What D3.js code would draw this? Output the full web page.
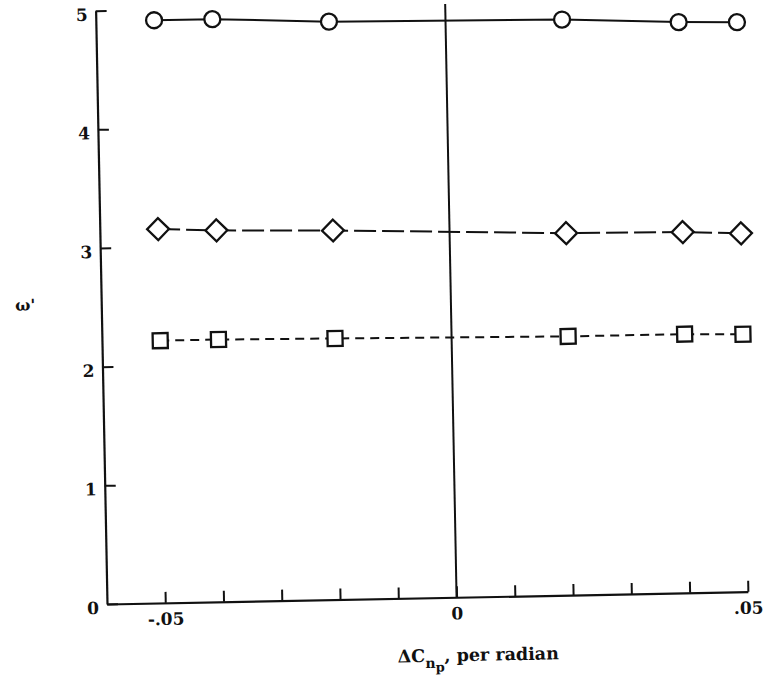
<!DOCTYPE html>
<html>
<head>
<meta charset="utf-8">
<script src="https://cdn.jsdelivr.net/npm/d3@7"></script>
<style>
  html, body { margin: 0; padding: 0; background: #fff; }
  svg { display: block; }
  text { font-family: "DejaVu Serif", serif; fill: #111; }
</style>
</head>
<body>
<svg id="chart" width="772" height="680"></svg>
<script>
// Measured points: yaw-damping increment vs. frequency parameter
const xVals = [-0.05, -0.04, -0.02, 0.02, 0.04, 0.05];
const circleVals = [4.91, 4.91, 4.87, 4.85, 4.81, 4.80];
const diamondVals = [3.15, 3.13, 3.11, 3.05, 3.04, 3.02];
const squareVals = [2.21, 2.21, 2.20, 2.18, 2.18, 2.17];

const xTickVals = [-0.05, -0.04, -0.03, -0.02, -0.01, 0, 0.01, 0.02, 0.03, 0.04, 0.05];
const xTickLabels = ["-.05", "", "", "", "", "0", "", "", "", "", ".05"];
const yTickVals = [0, 1, 2, 3, 4, 5];
const yTickLabels = ["0", "1", "2", "3", "4", "5"];

const W = 641, H = 593.4;
const ox = 107, oy = 604;
const ink = "#111";

const svg = d3.select("#chart");
svg.append("rect").attr("width", 772).attr("height", 680).attr("fill", "#fff");

// whole sheet sits slightly turned
const sheet = svg.append("g").attr("transform", `rotate(-1.1 ${ox} ${oy})`);
const g = sheet.append("g").attr("transform", `translate(${ox},${oy - H})`);

const x = d3.scaleLinear().domain([-0.06, 0.05]).range([0, W]);
const y = d3.scaleLinear().domain([0, 5]).range([H, 0]);

// axes: ticks point inward
const xAxis = d3.axisBottom(x)
  .tickValues(xTickVals)
  .tickSize(-11)
  .tickSizeOuter(0)
  .tickPadding(10)
  .tickFormat((d, i) => xTickLabels[i]);

const yAxis = d3.axisLeft(y)
  .tickValues(yTickVals)
  .tickSize(-11)
  .tickSizeOuter(0)
  .tickPadding(8)
  .tickFormat((d, i) => yTickLabels[i]);

const gx = g.append("g").attr("transform", `translate(0,${H})`).call(xAxis);
const gy = g.append("g").call(yAxis);

[gx, gy].forEach(a => {
  a.select(".domain").attr("stroke", ink).attr("stroke-width", 2.2);
  a.selectAll(".tick line").attr("stroke", ink).attr("stroke-width", 2);
  a.selectAll(".tick text")
    .attr("fill", ink)
    .style("font-family", "'DejaVu Serif', serif")
    .style("font-weight", "bold")
    .style("font-size", "17px");
});
gy.selectAll(".tick text").attr("dy", "0.55em");

// zero reference line
g.append("line")
  .attr("x1", x(0)).attr("x2", x(0))
  .attr("y1", y(0)).attr("y2", y(5))
  .attr("stroke", ink).attr("stroke-width", 2);

const series = [
  { vals: circleVals, dash: null, shape: "circle" },
  { vals: diamondVals, dash: "22,6", shape: "diamond" },
  { vals: squareVals, dash: "9,6", shape: "square" }
];

const line = d3.line().x(d => x(d[0])).y(d => y(d[1]));

series.forEach(s => {
  const pts = xVals.map((v, i) => [v, s.vals[i]]);
  g.append("path")
    .datum(pts)
    .attr("d", line)
    .attr("fill", "none")
    .attr("stroke", ink)
    .attr("stroke-width", 2)
    .attr("stroke-dasharray", s.dash);

  const m = g.append("g").selectAll("g").data(pts).join("g")
    .attr("transform", d => `translate(${x(d[0])},${y(d[1])})`);

  if (s.shape === "circle") {
    m.append("circle").attr("r", 8)
      .attr("fill", "#fff").attr("stroke", ink).attr("stroke-width", 2.3);
  } else if (s.shape === "square") {
    m.append("path").attr("d", d3.symbol(d3.symbolSquare, 225)())
      .attr("fill", "#fff").attr("stroke", ink).attr("stroke-width", 2.3);
  } else {
    m.append("path").attr("d", d3.symbol(d3.symbolSquare, 240)())
      .attr("transform", "rotate(45)")
      .attr("fill", "#fff").attr("stroke", ink).attr("stroke-width", 2.3);
  }
});

// axis titles
const xt = g.append("text")
  .attr("x", x(-0.0103))
  .attr("y", H + 64)
  .style("font-size", "17.5px")
  .style("font-weight", "bold");
xt.append("tspan").text("\u0394C");
xt.append("tspan").attr("dy", 6).style("font-size", "14px").text("n");
xt.append("tspan").attr("dy", 4).style("font-size", "13px").text("p");
xt.append("tspan").attr("dy", -10).text(", per radian");

g.append("text")
  .attr("x", -76)
  .attr("y", H - 300.6)
  .attr("dy", "0.35em")
  .attr("text-anchor", "middle")
  .style("font-size", "16px")
  .style("font-weight", "bold")
  .text("\u03C9'");
</script>
</body>
</html>
